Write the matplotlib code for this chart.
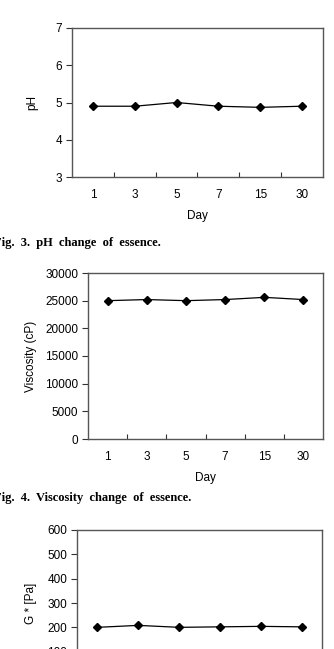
import matplotlib
matplotlib.use("Agg")
import matplotlib.pyplot as plt
from matplotlib.ticker import FixedLocator

days = ["1", "3", "5", "7", "15", "30"]
ph = [4.9, 4.9, 5.0, 4.9, 4.87, 4.9]
viscosity = [25000, 25200, 25000, 25200, 25600, 25200]
g_star = [200, 208, 200, 202, 204, 202]

plt.rcParams['font.family'] = ['Liberation Sans', 'DejaVu Sans']
W, H = 334, 649
fig = plt.figure(figsize=(W / 100, H / 100), dpi=100)


def box(left, top, right, bottom):
    return [left / W, 1 - bottom / H, (right - left) / W, (bottom - top) / H]


def panel(rect, values, ylim, yticks, ylabel, show_day=True):
    ax = fig.add_axes(box(*rect))
    ax.plot(range(len(days)), values, color='black', lw=0.9,
            marker='D', ms=4.5, mfc='black', mec='black')
    ax.set_xlim(-0.5, len(days) - 0.5)
    ax.set_ylim(*ylim)
    ax.set_yticks(yticks)
    ax.set_xticks(range(len(days)))
    ax.set_xticklabels(days)
    ax.xaxis.set_minor_locator(FixedLocator([i + 0.5 for i in range(len(days) - 1)]))
    ax.tick_params(axis='x', which='major', length=0, pad=9, labelsize=8.5,
                   labelbottom=show_day)
    ax.tick_params(axis='x', which='minor', direction='in', length=3.5,
                   width=0.8, color='#333333')
    ax.tick_params(axis='y', which='major', direction='out', length=4,
                   width=0.8, color='#333333', labelsize=8.5, pad=3)
    for s in ax.spines.values():
        s.set_color('#555555')
        s.set_linewidth(1.0)
    ax.set_ylabel(ylabel, fontsize=8.5)
    if show_day:
        ax.set_xlabel('Day', fontsize=8.5, labelpad=6)
    return ax


ax1 = panel((72, 28, 323, 177), ph, (3, 7), [3, 4, 5, 6, 7], 'pH')
ax1.yaxis.set_label_coords(-0.135, 0.5)

ax2 = panel((88, 273, 323, 439), viscosity, (0, 30000),
            [0, 5000, 10000, 15000, 20000, 25000, 30000], 'Viscosity (cP)')
ax2.yaxis.set_label_coords(-0.217, 0.5)

ax3 = panel((77, 530, 322, 676), g_star, (0, 600),
            [0, 100, 200, 300, 400, 500, 600], 'G * [Pa]', show_day=False)
ax3.yaxis.set_label_coords(-0.163, 0.5)

cap = dict(fontsize=9, fontweight='bold', family='Liberation Serif',
           ha='left', va='center')
fig.text(-6 / W, 1 - 243 / H, 'Fig.  3.  pH  change  of  essence.', **cap)
fig.text(-6 / W, 1 - 498 / H, 'Fig.  4.  Viscosity  change  of  essence.', **cap)

fig.savefig('out.png', dpi=100)
